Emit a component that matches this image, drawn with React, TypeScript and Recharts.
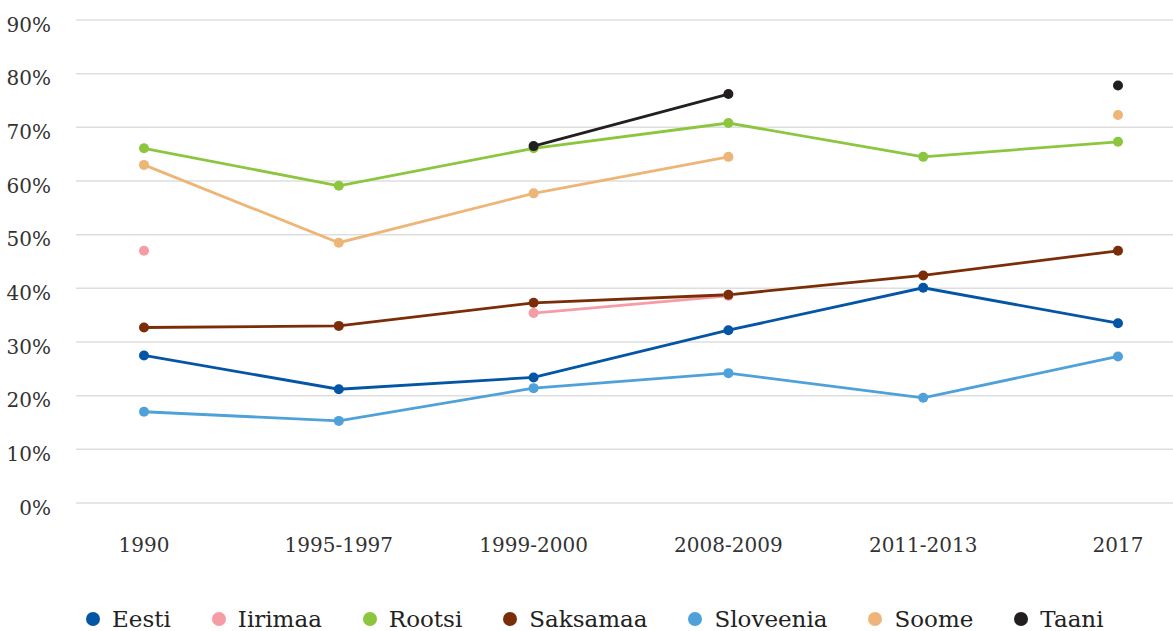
import { LineChart, Line, XAxis, YAxis, CartesianGrid } from "recharts";

const periods = ["1990", "1995-1997", "1999-2000", "2008-2009", "2011-2013", "2017"];

const eesti = [27.5, 21.2, 23.4, 32.2, 40.1, 33.5];
const iirimaa = [47.0, null, 35.4, 38.6, null, null];
const rootsi = [66.1, 59.1, 66.1, 70.8, 64.5, 67.3];
const saksamaa = [32.7, 33.0, 37.3, 38.8, 42.4, 47.0];
const sloveenia = [17.0, 15.3, 21.4, 24.2, 19.6, 27.3];
const soome = [63.0, 48.5, 57.7, 64.5, null, 72.3];
const taani = [null, null, 66.5, 76.2, null, 77.8];

const yTicks = [0, 10, 20, 30, 40, 50, 60, 70, 80, 90];

const series = [
  { key: "eesti", name: "Eesti", color: "#0455a6", values: eesti },
  { key: "iirimaa", name: "Iirimaa", color: "#f59ca6", values: iirimaa },
  { key: "rootsi", name: "Rootsi", color: "#8cc63f", values: rootsi },
  { key: "saksamaa", name: "Saksamaa", color: "#7b2d08", values: saksamaa },
  { key: "sloveenia", name: "Sloveenia", color: "#4ea1d9", values: sloveenia },
  { key: "soome", name: "Soome", color: "#edb577", values: soome },
  { key: "taani", name: "Taani", color: "#231f20", values: taani },
];

const data = periods.map((period, i) => {
  const row: Record<string, string | number | null> = { period };
  series.forEach((s) => {
    row[s.key] = s.values[i];
  });
  return row;
});

const FONT = "'DejaVu Serif', serif";

const YTick = ({ x, y, payload }: any) => (
  <text
    x={x}
    y={y + 6}
    textAnchor="end"
    dominantBaseline="middle"
    fontFamily={FONT}
    fontSize={20}
    fill="#333"
  >
    {payload.value}%
  </text>
);

const App = () => {
  return (
    <div style={{ position: "absolute", left: 0, top: 0, width: 1173, height: 631, background: "#fff" }}>
      <LineChart
        width={1173}
        height={631}
        data={data}
        margin={{ top: 20, right: 0, left: 0, bottom: 0 }}
      >
        <CartesianGrid vertical={false} stroke="#dedede" strokeWidth={1.5} />
        <XAxis
          dataKey="period"
          scale="point"
          padding={{ left: 68, right: 55 }}
          axisLine={false}
          tickLine={false}
          tickSize={0}
          tickMargin={35}
          height={128}
          tick={{ fontFamily: FONT, fontSize: 20, fill: "#333" }}
          interval={0}
        />
        <YAxis
          domain={[0, 90]}
          ticks={yTicks}
          width={76}
          axisLine={false}
          tickLine={false}
          tickSize={0}
          tickMargin={25}
          tick={<YTick />}
        />
        {series.map((s) => (
          <Line
            key={s.key}
            dataKey={s.key}
            name={s.name}
            stroke={s.color}
            strokeWidth={2.8}
            dot={{ r: 5, fill: s.color, stroke: "none" }}
            activeDot={false}
            isAnimationActive={false}
            type="linear"
          />
        ))}
      </LineChart>
      <div
        style={{
          position: "absolute",
          top: 604,
          left: 86,
          display: "flex",
          fontFamily: FONT,
          fontSize: 23,
          color: "#222",
          lineHeight: "30px",
          whiteSpace: "nowrap",
        }}
      >
        {series.map((s, i) => (
          <div
            key={s.key}
            style={{
              display: "flex",
              alignItems: "center",
              marginLeft: i === 0 ? 0 : 41,
            }}
          >
            <span
              style={{
                width: 14,
                height: 14,
                borderRadius: 7,
                background: s.color,
                marginRight: 12,
                display: "inline-block",
              }}
            />
            <span>{s.name}</span>
          </div>
        ))}
      </div>
    </div>
  );
};

export default App;
